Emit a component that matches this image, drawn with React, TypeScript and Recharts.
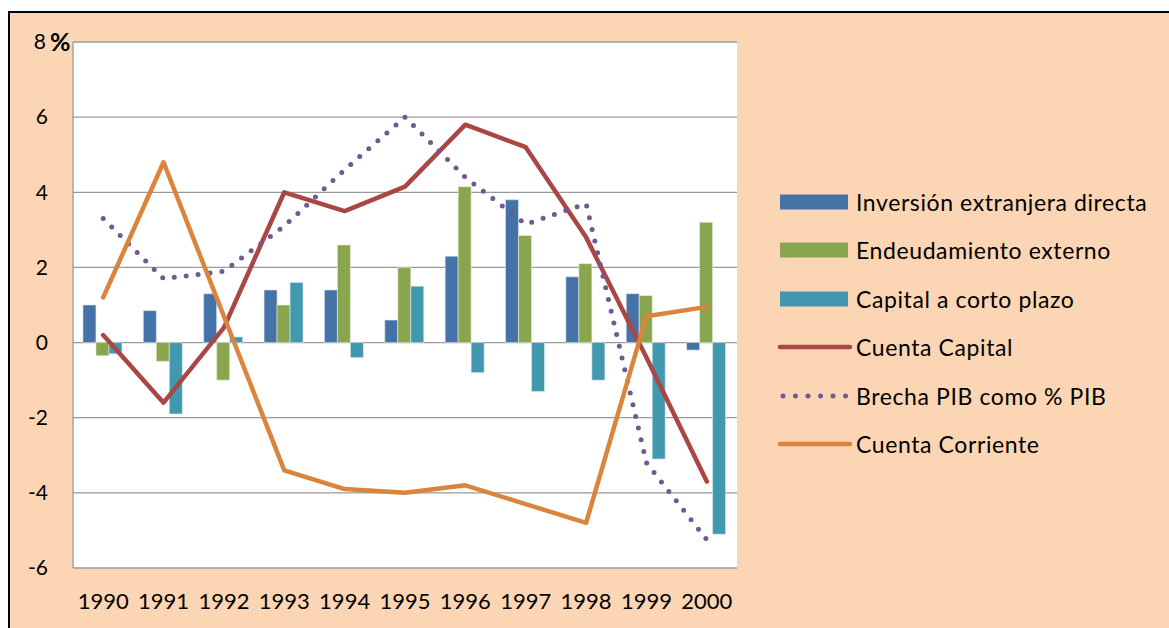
import { ComposedChart, Bar, Line, XAxis, YAxis, CartesianGrid } from 'recharts';

const years = ['1990', '1991', '1992', '1993', '1994', '1995', '1996', '1997', '1998', '1999', '2000'];
const inversion = [1.0, 0.85, 1.3, 1.4, 1.4, 0.6, 2.3, 3.8, 1.75, 1.3, -0.2];
const endeudamiento = [-0.35, -0.5, -1.0, 1.0, 2.6, 2.0, 4.15, 2.85, 2.1, 1.25, 3.2];
const capitalCorto = [-0.3, -1.9, 0.15, 1.6, -0.4, 1.5, -0.8, -1.3, -1.0, -3.1, -5.1];
const cuentaCapital = [0.2, -1.6, 0.4, 4.0, 3.5, 4.15, 5.8, 5.2, 2.8, -0.4, -3.7];
const brecha = [3.3, 1.7, 1.9, 3.1, 4.6, 6.0, 4.4, 3.15, 3.7, -3.2, -5.25];
const corriente = [1.2, 4.8, 0.7, -3.4, -3.9, -4.0, -3.8, -4.3, -4.8, 0.7, 0.95];
const yTicks = [-6, -4, -2, 0, 2, 4, 6, 8];

const data = years.map((year, i) => ({
  year,
  inversion: inversion[i],
  endeudamiento: endeudamiento[i],
  capitalCorto: capitalCorto[i],
  cuentaCapital: cuentaCapital[i],
  brecha: brecha[i],
  corriente: corriente[i],
}));

const FONT = 'Lato, "Open Sans", sans-serif';
const C_INV = '#4572A7';
const C_END = '#89A54E';
const C_CAP = '#4198AF';
const C_RED = '#AA4643';
const C_PUR = '#71588F';
const C_ORA = '#DB843D';

const legendItems = [
  { label: 'Inversión extranjera directa', color: C_INV, kind: 'bar' },
  { label: 'Endeudamiento externo', color: C_END, kind: 'bar' },
  { label: 'Capital a corto plazo', color: C_CAP, kind: 'bar' },
  { label: 'Cuenta Capital', color: C_RED, kind: 'line' },
  { label: 'Brecha PIB como % PIB', color: C_PUR, kind: 'dot' },
  { label: 'Cuenta Corriente', color: C_ORA, kind: 'line' },
];

const YTick = (props: any) => {
  const { x, y, payload } = props;
  if (payload.value === 8) {
    return (
      <g>
        <text x={x - 2} y={y} dy="0.35em" textAnchor="end" fontSize={21} fontFamily={FONT} fill="#000">8</text>
        <text x={x + 2} y={y} dy="0.35em" textAnchor="start" fontSize={25} fontWeight="bold" fontFamily={FONT} fill="#000">%</text>
      </g>
    );
  }
  return (
    <text x={x} y={y} dy="0.35em" textAnchor="end" fontSize={21} fontFamily={FONT} fill="#000">
      {payload.value}
    </text>
  );
};

export default function App() {
  return (
    <div
      style={{
        position: 'absolute',
        left: 8,
        top: 11,
        width: 1161,
        height: 617,
        boxSizing: 'border-box',
        background: '#FCD5B4',
        borderLeft: '2px solid #000',
        borderTop: '2px solid #000',
        fontFamily: FONT,
      }}
    >
      <ComposedChart
        width={760}
        height={615}
        data={data}
        margin={{ top: 29, right: 33, left: 8, bottom: 15 }}
        barCategoryGap="16.5%"
        barGap={0}
      >
        <CartesianGrid vertical={false} stroke="#9A9A9A" strokeWidth={1.3} fill="#ffffff" />
        <XAxis
          dataKey="year"
          axisLine={false}
          tickLine={false}
          height={45}
          tickSize={0}
          tickMargin={25}
          tick={{ fontSize: 22, fontFamily: FONT, fill: '#000' }}
          interval={0}
        />
        <YAxis
          domain={[-6, 8]}
          ticks={yTicks}
          width={55}
          axisLine={{ stroke: '#9A9A9A', strokeWidth: 1.3 }}
          tickLine={false}
          tickSize={0}
          tickMargin={25}
          tick={<YTick />}
          interval={0}
        />
        <Bar dataKey="inversion" fill={C_INV} stroke="#dfe8f2" strokeWidth={0.6} isAnimationActive={false} />
        <Bar dataKey="endeudamiento" fill={C_END} stroke="#e8f0dc" strokeWidth={0.6} isAnimationActive={false} />
        <Bar dataKey="capitalCorto" fill={C_CAP} stroke="#dcedf2" strokeWidth={0.6} isAnimationActive={false} />
        <Line dataKey="cuentaCapital" stroke={C_RED} strokeWidth={4.5} dot={false} isAnimationActive={false} strokeLinejoin="round" strokeLinecap="round" />
        <Line dataKey="brecha" stroke={C_PUR} strokeWidth={5} strokeDasharray="0 12" strokeLinecap="round" dot={false} isAnimationActive={false} />
        <Line dataKey="corriente" stroke={C_ORA} strokeWidth={4.5} dot={false} isAnimationActive={false} strokeLinejoin="round" strokeLinecap="round" />
      </ComposedChart>
      {legendItems.map((item, i) => (
        <div
          key={item.label}
          style={{
            position: 'absolute',
            left: 767,
            top: 189 + i * 48.4 - 15,
            height: 30,
            display: 'flex',
            alignItems: 'center',
            whiteSpace: 'nowrap',
          }}
        >
          <svg width={76} height={30} style={{ display: 'block' }}>
            {item.kind === 'bar' && <rect x={3} y={7.5} width={68} height={15} fill={item.color} />}
            {item.kind === 'line' && (
              <line x1={3} y1={15} x2={73} y2={15} stroke={item.color} strokeWidth={4.5} strokeLinecap="round" />
            )}
            {item.kind === 'dot' && (
              <line x1={6} y1={15} x2={76} y2={15} stroke={item.color} strokeWidth={5} strokeDasharray="0 12.5" strokeLinecap="round" />
            )}
          </svg>
          <span style={{ fontSize: 23, letterSpacing: 0.6, color: '#000', marginLeft: 3 }}>{item.label}</span>
        </div>
      ))}
    </div>
  );
}
